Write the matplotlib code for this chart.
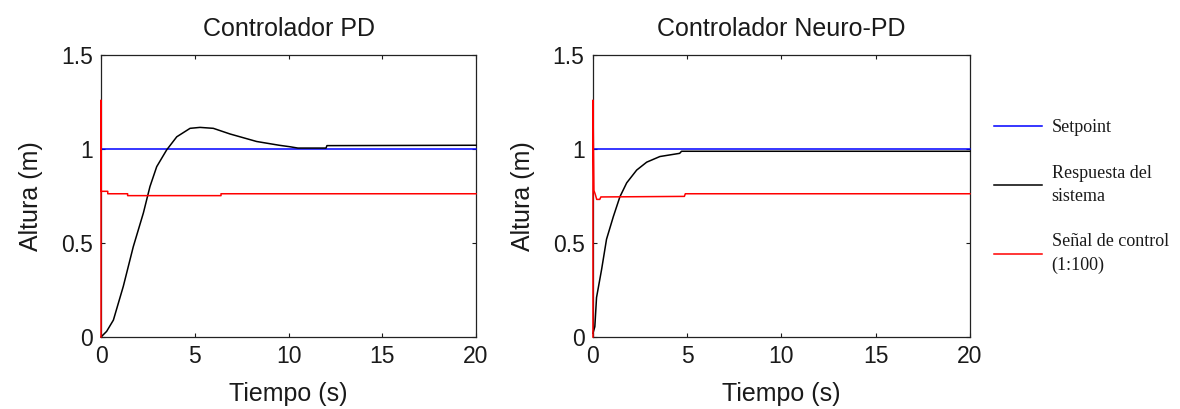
import matplotlib.pyplot as plt
from matplotlib.lines import Line2D

# Controlador PD
t_pd = [0, 0.3, 0.66, 1.19, 1.72, 2.26, 2.61, 2.97, 3.5, 4.04, 4.75, 5.28, 5.99,
        6.88, 8.3, 9.5, 10.08, 10.5, 12.0, 12.05, 20]
y_pd = [0, 0.03, 0.09, 0.27, 0.48, 0.66, 0.80, 0.906, 0.995, 1.065, 1.11, 1.115, 1.11,
        1.08, 1.04, 1.02, 1.012, 1.005, 1.005, 1.018, 1.02]
tu_pd = [0, 0, 0.001, 0.36, 0.36, 1.42, 1.42, 6.4, 6.4, 20]
u_pd = [0, 1.26, 0.775, 0.775, 0.762, 0.762, 0.752, 0.752, 0.762, 0.762]

# Controlador Neuro-PD
t_npd = [0, 0.1, 0.19, 0.46, 0.72, 1.08, 1.43, 1.79, 2.32, 2.85, 3.55, 4.6, 4.7, 20]
y_npd = [0.02, 0.055, 0.21, 0.36, 0.52, 0.64, 0.746, 0.82, 0.888, 0.93, 0.96, 0.977,
         0.988, 0.988]
tu_npd = [0, 0, 0.05, 0.12, 0.2, 0.36, 0.42, 4.85, 4.9, 20]
u_npd = [0, 1.26, 0.78, 0.76, 0.732, 0.732, 0.745, 0.748, 0.762, 0.762]

t_sp = [0, 20]
y_sp = [1, 1]

titles = ['Controlador PD', 'Controlador Neuro-PD']
labels = ['Setpoint', 'Respuesta del\nsistema', 'Señal de control\n(1:100)']

plt.rcParams['font.family'] = ['Liberation Sans', 'DejaVu Sans']

fig = plt.figure(figsize=(11.8, 4.09), dpi=100)
ax1 = fig.add_axes([0.0856, 0.176, 0.3178, 0.6895])
ax2 = fig.add_axes([0.5025, 0.176, 0.3195, 0.6895])

data = [(t_pd, y_pd, tu_pd, u_pd), (t_npd, y_npd, tu_npd, u_npd)]
for ax, title, (t, y, tu, u) in zip([ax1, ax2], titles, data):
    ax.plot(t_sp, y_sp, color='#0000ff', lw=1.1, clip_on=False, zorder=3)
    ax.plot(t, y, color='black', lw=1.1, clip_on=False, zorder=3)
    ax.plot(tu, u, color='#ff0000', lw=1.1, clip_on=False, zorder=4)
    ax.set_xlim(0, 20)
    ax.set_ylim(0, 1.5)
    ax.set_xticks([0, 5, 10, 15, 20])
    ax.set_yticks([0, 0.5, 1, 1.5])
    ax.set_yticklabels(['0', '0.5', '1', '1.5'])
    ax.tick_params(direction='in', length=3, width=0.8, top=True, right=True,
                   labelsize=16.5, pad=6, colors='#1a1a1a')
    for s in ax.spines.values():
        s.set_linewidth(0.9)
        s.set_color('#222222')
    ax.set_title(title, fontsize=18, pad=14, color='#1a1a1a')
    ax.set_xlabel('Tiempo (s)', fontsize=18, labelpad=10, color='#1a1a1a')
    ax.set_ylabel('Altura (m)', fontsize=18, labelpad=13, color='#1a1a1a')

handles = [Line2D([], [], color='#0000ff', lw=1.1),
           Line2D([], [], color='black', lw=1.1),
           Line2D([], [], color='#ff0000', lw=1.1)]
leg = fig.legend(handles, labels, loc='upper left', bbox_to_anchor=(0.8285, 0.748),
                 frameon=False, prop={'family': 'Liberation Serif', 'size': 13},
                 handlelength=2.65, handletextpad=0.55, labelspacing=1.57)
for txt in leg.get_texts():
    txt.set_linespacing(1.48)
    txt.set_color('#1a1a1a')

fig.savefig('out.png', dpi=100)
